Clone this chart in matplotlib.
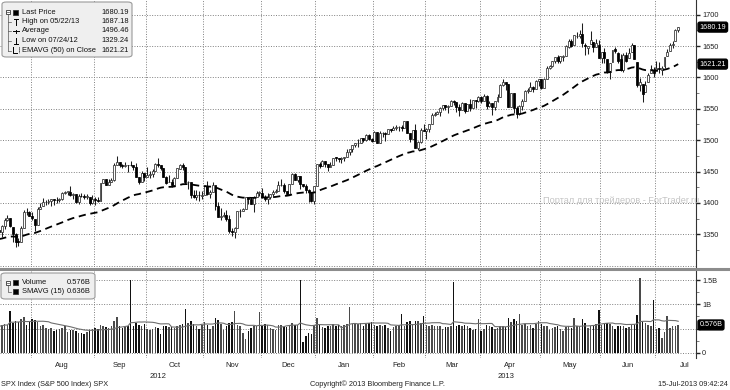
import numpy as np
import pandas as pd
import matplotlib
matplotlib.use("Agg")
import matplotlib.pyplot as plt
from matplotlib.patches import FancyBboxPatch, Rectangle
from matplotlib.lines import Line2D
import matplotlib.transforms as mtransforms

plt.rcParams['font.family'] = ['Liberation Sans', 'DejaVu Sans']

# market holidays inside the window (used to build the trading calendar)
holidays = ['2012-09-03', '2012-10-29', '2012-10-30', '2012-11-22', '2012-12-25',
            '2013-01-01', '2013-01-21', '2013-02-18', '2013-03-29', '2013-05-27',
            '2013-07-04']

# daily open, high, low, close of SPX, one list per month
jul12 = [(1356.50, 1357.26, 1348.51, 1353.64), (1353.68, 1365.36, 1345.07, 1363.67),
         (1363.58, 1375.26, 1358.96, 1372.78), (1373.01, 1380.39, 1371.21, 1376.51),
         (1376.51, 1376.51, 1362.19, 1362.66), (1362.34, 1362.34, 1337.56, 1350.52),
         (1350.52, 1351.53, 1329.24, 1338.31), (1338.35, 1343.98, 1331.50, 1337.89),
         (1338.17, 1363.13, 1338.17, 1360.02), (1360.05, 1389.19, 1360.05, 1385.97),
         (1385.94, 1391.74, 1381.37, 1385.30), (1385.27, 1387.16, 1379.17, 1379.32)]
aug12 = [(1379.32, 1385.03, 1373.35, 1375.32), (1375.13, 1375.13, 1354.65, 1365.00),
         (1365.45, 1394.16, 1365.45, 1390.99), (1391.04, 1399.63, 1391.04, 1394.23),
         (1394.46, 1407.14, 1394.46, 1401.35), (1401.23, 1404.14, 1396.13, 1402.22),
         (1402.26, 1405.95, 1398.80, 1402.80), (1402.58, 1405.98, 1395.62, 1405.87),
         (1405.87, 1405.87, 1397.32, 1404.11), (1404.36, 1410.03, 1400.60, 1403.93),
         (1403.89, 1407.73, 1401.83, 1405.53), (1405.57, 1417.44, 1404.15, 1415.51),
         (1415.84, 1418.71, 1414.67, 1418.16), (1417.85, 1418.13, 1412.12, 1418.13),
         (1418.13, 1426.68, 1410.86, 1413.17), (1413.09, 1416.12, 1406.78, 1413.49),
         (1413.49, 1413.49, 1400.50, 1402.08), (1401.99, 1413.46, 1398.04, 1411.13),
         (1411.13, 1416.17, 1409.11, 1410.44), (1410.44, 1413.63, 1405.59, 1409.30),
         (1409.32, 1413.95, 1406.57, 1410.49), (1410.08, 1410.08, 1397.01, 1399.48),
         (1400.07, 1413.09, 1398.96, 1406.58)]
sep12 = [(1406.54, 1409.31, 1396.56, 1404.94), (1404.94, 1408.81, 1401.25, 1403.44),
         (1403.74, 1432.12, 1403.74, 1432.12), (1432.12, 1437.92, 1431.45, 1437.92),
         (1437.92, 1438.74, 1428.98, 1429.08), (1429.13, 1437.76, 1429.13, 1433.56),
         (1433.56, 1439.15, 1432.99, 1436.56), (1436.56, 1463.76, 1435.34, 1459.99),
         (1460.07, 1474.51, 1460.07, 1465.77), (1465.42, 1465.63, 1457.55, 1461.19),
         (1461.19, 1461.47, 1456.13, 1459.32), (1459.50, 1465.15, 1457.88, 1461.05),
         (1461.05, 1461.23, 1449.98, 1460.26), (1460.34, 1467.07, 1459.51, 1460.15),
         (1459.76, 1460.72, 1452.06, 1456.89), (1456.94, 1463.24, 1441.59, 1441.59),
         (1441.60, 1441.60, 1430.53, 1433.32), (1433.36, 1450.20, 1433.36, 1447.15),
         (1447.13, 1447.13, 1435.60, 1440.67)]
oct12 = [(1440.90, 1457.14, 1440.90, 1444.49), (1444.99, 1451.52, 1439.01, 1445.75),
         (1446.05, 1454.30, 1441.99, 1450.99), (1451.08, 1463.14, 1451.08, 1461.40),
         (1461.40, 1470.96, 1456.89, 1460.93), (1460.93, 1460.93, 1453.10, 1455.88),
         (1455.90, 1455.90, 1441.18, 1441.48), (1441.48, 1442.52, 1430.64, 1432.56),
         (1432.82, 1443.90, 1432.82, 1432.84), (1432.84, 1438.43, 1425.53, 1428.59),
         (1428.75, 1441.31, 1427.24, 1440.13), (1440.31, 1455.51, 1440.31, 1454.92),
         (1454.22, 1462.20, 1453.35, 1460.91), (1460.94, 1464.02, 1452.63, 1457.34),
         (1457.34, 1457.34, 1429.85, 1433.19), (1433.21, 1435.46, 1422.06, 1433.82),
         (1433.74, 1433.74, 1407.56, 1413.11), (1413.20, 1420.04, 1407.10, 1408.75),
         (1409.74, 1421.12, 1405.14, 1412.97), (1412.97, 1418.82, 1403.28, 1411.94),
         (1410.99, 1418.76, 1405.95, 1412.16)]
nov12 = [(1412.20, 1428.35, 1412.20, 1427.59), (1427.59, 1434.27, 1412.91, 1414.20),
         (1414.02, 1419.90, 1408.13, 1417.26), (1417.26, 1433.38, 1417.26, 1428.39),
         (1428.27, 1428.27, 1388.14, 1394.53), (1394.53, 1401.23, 1377.51, 1377.51),
         (1377.55, 1391.39, 1373.03, 1379.85), (1379.86, 1384.87, 1377.19, 1380.03),
         (1380.03, 1388.81, 1370.78, 1374.53), (1374.64, 1380.13, 1352.50, 1355.49),
         (1355.41, 1360.62, 1348.05, 1353.33), (1353.36, 1362.03, 1343.35, 1359.88),
         (1359.88, 1386.89, 1359.88, 1386.89), (1386.82, 1389.77, 1377.04, 1387.81),
         (1387.79, 1391.25, 1386.39, 1391.03), (1391.03, 1409.16, 1391.03, 1409.15),
         (1409.15, 1409.15, 1397.68, 1406.29), (1406.29, 1409.01, 1398.03, 1398.94),
         (1398.77, 1410.31, 1385.43, 1409.93), (1409.96, 1419.70, 1409.04, 1415.95),
         (1415.95, 1418.86, 1411.63, 1416.18)]
dec12 = [(1416.34, 1423.73, 1408.46, 1409.46), (1409.46, 1413.14, 1403.65, 1407.05),
         (1407.05, 1415.56, 1398.23, 1409.28), (1409.43, 1413.95, 1405.93, 1413.94),
         (1413.95, 1420.34, 1410.90, 1418.07), (1418.07, 1421.64, 1415.64, 1418.55),
         (1418.55, 1434.27, 1418.55, 1427.84), (1427.84, 1438.59, 1426.76, 1428.48),
         (1428.48, 1431.36, 1416.00, 1419.45), (1419.45, 1419.45, 1411.88, 1413.58),
         (1413.54, 1430.67, 1413.54, 1430.36), (1430.47, 1448.00, 1430.47, 1446.79),
         (1446.79, 1447.75, 1435.80, 1435.81), (1435.81, 1443.70, 1432.82, 1443.69),
         (1443.67, 1443.67, 1422.58, 1430.15), (1430.15, 1430.15, 1424.66, 1426.66),
         (1426.66, 1429.42, 1416.43, 1419.83), (1419.83, 1422.80, 1401.80, 1418.10),
         (1418.10, 1418.10, 1401.58, 1402.43), (1402.43, 1426.74, 1398.11, 1426.19)]
jan13 = [(1426.19, 1462.43, 1426.19, 1462.42), (1462.42, 1465.47, 1455.53, 1459.37),
         (1459.37, 1467.94, 1458.99, 1466.47), (1466.47, 1466.47, 1456.62, 1461.89),
         (1461.89, 1461.89, 1451.64, 1457.15), (1457.15, 1464.73, 1457.15, 1461.02),
         (1461.02, 1472.30, 1461.02, 1472.12), (1472.12, 1472.75, 1467.58, 1472.05),
         (1472.05, 1472.05, 1465.69, 1470.68), (1470.67, 1473.31, 1463.76, 1472.34),
         (1472.33, 1473.96, 1467.60, 1472.63), (1472.63, 1485.16, 1472.63, 1480.94),
         (1480.95, 1485.98, 1475.81, 1485.98), (1485.98, 1492.56, 1481.16, 1492.56),
         (1492.56, 1496.13, 1489.90, 1494.81), (1494.81, 1502.27, 1489.46, 1494.82),
         (1494.82, 1503.26, 1494.82, 1502.96), (1502.96, 1503.23, 1496.33, 1500.18),
         (1500.18, 1509.35, 1498.09, 1507.84), (1507.84, 1509.94, 1500.11, 1501.96),
         (1501.96, 1504.19, 1496.76, 1498.11)]
feb13 = [(1498.11, 1514.41, 1498.11, 1513.17), (1513.17, 1513.17, 1495.02, 1495.71),
         (1495.71, 1514.96, 1495.71, 1511.29), (1511.29, 1512.53, 1504.71, 1512.12),
         (1512.12, 1512.90, 1498.49, 1509.39), (1509.39, 1518.31, 1509.39, 1517.93),
         (1517.93, 1518.31, 1513.61, 1517.01), (1517.01, 1522.29, 1515.61, 1519.43),
         (1519.43, 1524.69, 1515.93, 1520.33), (1520.33, 1523.14, 1514.02, 1521.38),
         (1521.38, 1524.24, 1514.14, 1519.79), (1519.79, 1530.94, 1519.79, 1530.94),
         (1530.94, 1530.94, 1511.41, 1511.95), (1511.95, 1511.95, 1497.29, 1502.42),
         (1502.42, 1515.64, 1502.42, 1515.60), (1515.60, 1525.84, 1487.85, 1487.85),
         (1487.85, 1498.99, 1485.01, 1496.94), (1496.94, 1520.08, 1494.88, 1515.99),
         (1515.99, 1525.34, 1514.46, 1514.68)]
mar13 = [(1514.68, 1519.99, 1501.48, 1518.20), (1518.20, 1525.27, 1512.29, 1525.20),
         (1525.20, 1543.47, 1525.20, 1539.79), (1539.79, 1545.25, 1538.11, 1541.46),
         (1541.46, 1545.78, 1541.46, 1544.26), (1544.26, 1552.48, 1539.29, 1551.18),
         (1551.15, 1556.27, 1547.36, 1556.22), (1556.22, 1556.77, 1548.24, 1552.48),
         (1552.48, 1556.39, 1544.00, 1554.52), (1554.52, 1563.32, 1554.52, 1563.23),
         (1563.21, 1563.62, 1555.74, 1560.70), (1560.70, 1560.70, 1545.13, 1552.10),
         (1552.10, 1557.25, 1538.57, 1548.34), (1548.34, 1561.56, 1548.34, 1558.71),
         (1558.71, 1558.71, 1543.55, 1545.80), (1545.90, 1557.74, 1545.90, 1556.89),
         (1556.89, 1564.91, 1546.22, 1551.69), (1551.69, 1563.95, 1551.69, 1563.77),
         (1563.75, 1564.07, 1551.90, 1562.85), (1562.86, 1570.28, 1561.08, 1569.19)]
apr13 = [(1569.18, 1570.57, 1558.47, 1562.17), (1562.17, 1573.66, 1562.17, 1570.25),
         (1570.25, 1571.47, 1549.80, 1553.69), (1553.69, 1562.60, 1552.52, 1559.98),
         (1559.98, 1559.98, 1539.50, 1553.28), (1553.26, 1563.07, 1548.63, 1563.07),
         (1563.11, 1573.89, 1560.92, 1568.61), (1568.61, 1589.07, 1568.61, 1587.73),
         (1587.73, 1597.35, 1586.17, 1593.37), (1593.30, 1593.30, 1579.97, 1588.85),
         (1588.84, 1588.84, 1552.28, 1552.36), (1552.36, 1575.35, 1552.36, 1574.57),
         (1574.57, 1574.57, 1543.69, 1552.01), (1552.03, 1554.38, 1536.03, 1541.61),
         (1541.61, 1555.89, 1539.40, 1555.25), (1555.25, 1565.55, 1548.19, 1562.50),
         (1562.50, 1579.58, 1562.50, 1578.78), (1578.78, 1583.00, 1575.80, 1578.79),
         (1578.93, 1592.64, 1578.93, 1585.16), (1585.16, 1585.78, 1577.56, 1582.24),
         (1582.34, 1596.65, 1582.34, 1593.61), (1593.58, 1597.57, 1586.50, 1597.57)]
may13 = [(1597.55, 1597.55, 1581.28, 1582.70), (1582.77, 1598.60, 1582.77, 1597.59),
         (1597.60, 1618.46, 1597.60, 1614.42), (1614.40, 1619.77, 1614.21, 1617.50),
         (1617.55, 1626.03, 1616.64, 1625.96), (1625.95, 1632.78, 1622.70, 1632.69),
         (1632.69, 1635.01, 1623.09, 1626.67), (1626.69, 1633.70, 1623.71, 1633.70),
         (1632.10, 1636.00, 1626.74, 1633.77), (1633.75, 1651.10, 1633.75, 1650.34),
         (1649.13, 1661.49, 1646.68, 1658.78), (1658.07, 1660.51, 1648.60, 1650.47),
         (1652.45, 1667.47, 1652.45, 1667.47), (1665.71, 1672.84, 1663.52, 1666.29),
         (1666.20, 1674.93, 1662.67, 1669.16), (1669.39, 1687.18, 1648.86, 1655.35),
         (1651.62, 1655.50, 1635.53, 1650.51), (1646.67, 1649.78, 1636.88, 1649.60),
         (1652.63, 1674.21, 1652.63, 1660.06), (1656.57, 1656.57, 1640.05, 1648.36),
         (1649.14, 1661.91, 1648.61, 1654.41), (1652.13, 1658.99, 1630.74, 1630.74)]
jun13 = [(1631.71, 1640.42, 1622.72, 1640.42), (1640.73, 1646.53, 1623.62, 1631.38),
         (1629.05, 1629.31, 1607.09, 1608.90), (1609.29, 1622.56, 1598.23, 1622.56),
         (1625.27, 1644.40, 1625.27, 1643.38), (1644.67, 1648.69, 1639.26, 1642.81),
         (1638.64, 1640.13, 1622.92, 1626.13), (1629.94, 1637.71, 1610.92, 1612.52),
         (1612.15, 1639.25, 1608.07, 1636.36), (1635.52, 1640.80, 1623.96, 1626.73),
         (1630.64, 1646.50, 1630.34, 1639.04), (1639.77, 1654.19, 1639.77, 1651.81),
         (1651.83, 1652.45, 1628.91, 1628.93), (1624.62, 1624.62, 1584.32, 1588.19),
         (1588.62, 1599.19, 1577.70, 1592.43), (1588.77, 1588.77, 1560.33, 1573.09),
         (1577.52, 1593.79, 1577.09, 1588.03), (1592.27, 1606.83, 1592.27, 1603.26),
         (1606.44, 1620.07, 1606.44, 1613.20), (1611.12, 1615.94, 1601.06, 1606.28)]
jul13 = [(1609.78, 1626.61, 1609.78, 1614.96), (1614.29, 1624.26, 1606.77, 1614.08),
         (1611.48, 1618.97, 1604.57, 1615.41), (1618.65, 1632.07, 1614.71, 1631.89),
         (1634.20, 1644.68, 1634.20, 1640.46), (1642.89, 1654.18, 1642.89, 1652.32),
         (1651.56, 1657.92, 1647.66, 1652.62), (1657.41, 1676.63, 1657.41, 1675.02),
         (1675.26, 1680.19, 1672.33, 1680.19)]

# volume in billions, one list per month
vol_jul12 = [0.55, 0.57, 0.60, 0.58, 0.87, 0.62, 0.66, 0.64, 0.70, 0.73, 0.58, 0.66]
vol_aug12 = [0.70, 0.68, 0.64, 0.55, 0.58, 0.52, 0.50, 0.51, 0.45, 0.47, 0.50, 0.52,
             0.55, 0.44, 0.48, 0.47, 0.46, 0.41, 0.42, 0.40, 0.43, 0.48, 0.50]
vol_sep12 = [0.52, 0.50, 0.58, 0.56, 0.53, 0.52, 0.55, 0.66, 0.74, 0.55, 0.52, 0.54,
             0.56, 1.50, 0.55, 0.62, 0.58, 0.56, 0.60]
vol_oct12 = [0.50, 0.48, 0.50, 0.53, 0.52, 0.40, 0.55, 0.56, 0.53, 0.54, 0.52, 0.56,
             0.58, 0.59, 0.90, 0.62, 0.66, 0.60, 0.55, 0.50, 0.58]
vol_nov12 = [0.63, 0.58, 0.50, 0.56, 0.72, 0.68, 0.60, 0.48, 0.56, 0.62, 0.64, 0.87,
             0.57, 0.55, 0.42, 0.28, 0.46, 0.52, 0.56, 0.55, 0.85]
vol_dec12 = [0.55, 0.60, 0.57, 0.52, 0.50, 0.48, 0.57, 0.58, 0.54, 0.53, 0.56, 0.62,
             0.57, 0.58, 1.50, 0.23, 0.35, 0.42, 0.40, 0.58]
vol_jan13 = [0.72, 0.58, 0.54, 0.52, 0.55, 0.56, 0.60, 0.56, 0.57, 0.55, 0.58, 0.60,
             0.95, 0.60, 0.62, 0.60, 0.62, 0.56, 0.60, 0.62, 0.63]
vol_feb13 = [0.58, 0.56, 0.57, 0.55, 0.57, 0.52, 0.46, 0.54, 0.55, 0.57, 0.80, 0.56,
             0.64, 0.66, 0.60, 0.66, 0.65, 0.62, 0.77]
vol_mar13 = [0.58, 0.55, 0.57, 0.56, 0.55, 0.56, 0.50, 0.54, 0.53, 0.55, 1.45, 0.56,
             0.57, 0.55, 0.58, 0.56, 0.52, 0.48, 0.50, 0.70]
vol_apr13 = [0.45, 0.50, 0.58, 0.56, 0.54, 0.50, 0.52, 0.55, 0.56, 0.54, 0.72, 0.64,
             0.70, 0.66, 0.80, 0.58, 0.60, 0.56, 0.58, 0.52, 0.60, 0.66]
vol_may13 = [0.60, 0.56, 0.55, 0.48, 0.52, 0.54, 0.55, 0.50, 0.46, 0.54, 0.56, 0.52,
             0.72, 0.56, 0.55, 0.70, 0.62, 0.52, 0.56, 0.58, 0.60, 0.88]
vol_jun13 = [0.58, 0.60, 0.62, 0.60, 0.55, 0.50, 0.55, 0.56, 0.55, 0.52, 0.54, 0.58,
             0.60, 0.78, 1.54, 0.66, 0.62, 0.58, 0.56, 1.09]
vol_jul13 = [0.50, 0.52, 0.30, 0.44, 0.76, 0.52, 0.55, 0.56, 0.576]

ema_start = 1342.0   # EMA(50) level just before the first bar

price_ticks = [1350, 1400, 1450, 1500, 1550, 1600, 1650, 1700]
vol_ticks = [0, 0.5, 1.0, 1.5]
vol_tick_labels = ['0', '', '1B', '1.5B']   # 0.5B sits under the last-volume tag

price_legend = [('Last Price', '1680.19'), ('High on 05/22/13', '1687.18'),
                ('Average', '1496.46'), ('Low on 07/24/12', '1329.24'),
                ('EMAVG (50) on Close', '1621.21')]
vol_legend = [('Volume', '0.576B'), ('SMAVG (15)', '0.636B')]


ohlc = np.array(jul12 + aug12 + sep12 + oct12 + nov12 + dec12 + jan13 + feb13 +
                mar13 + apr13 + may13 + jun13 + jul13)
vol = np.array(vol_jul12 + vol_aug12 + vol_sep12 + vol_oct12 + vol_nov12 + vol_dec12 +
               vol_jan13 + vol_feb13 + vol_mar13 + vol_apr13 + vol_may13 + vol_jun13 +
               vol_jul13)
n = len(ohlc)
o, h, l, c = ohlc.T
x = np.arange(n)

# trading calendar (runs to end of July 2013 so the last month label can be centred)
days = pd.bdate_range('2012-07-16', '2013-07-31')
days = days[~days.isin(pd.to_datetime(holidays))]

# EMA(50) on close
alpha = 2.0 / 51
ema = []
prev = ema_start
for val in c:
    prev = alpha * val + (1 - alpha) * prev
    ema.append(prev)
sma = pd.Series(vol).rolling(15, min_periods=1).mean()

W, H = 730, 390
fig = plt.figure(figsize=(7.3, 3.9), dpi=100)
fig.patch.set_facecolor('white')

def fx(px):
    return px / W

def fy(py):
    return 1 - py / H

ax = fig.add_axes([0, fy(267), fx(696), 267 / H])
axv = fig.add_axes([0, fy(358), fx(696), 87 / H])

xmin, xmax = 0.29, 254.5
grid_kw = dict(color='#808080', lw=0.7, linestyle=(0, (1, 1.6)), zorder=0)

# month boundaries and label centres
months = pd.Series(np.arange(len(days)), index=days)
groups = months.groupby([days.year, days.month])
bounds, centres, names = [], [], []
for k, (key, g) in enumerate(groups):
    first, last = g.iloc[0], g.iloc[-1]
    if first > 0:
        bounds.append(first - 0.5)
    if k > 0:
        centres.append((first + last) / 2)
        names.append(g.index[0].strftime('%b'))

for a in (ax, axv):
    for b in bounds:
        a.axvline(b, **grid_kw)
    a.set_xlim(xmin, xmax)
    for side in ('top', 'left', 'bottom'):
        a.spines[side].set_visible(False)
    a.spines['right'].set_color('#333333')
    a.spines['right'].set_linewidth(0.8)
    a.yaxis.tick_right()
    a.tick_params(axis='y', which='major', length=3, width=1, colors='#222222',
                  labelsize=5.3, pad=1.5)
    a.tick_params(axis='y', which='minor', length=2, width=0.6, colors='#666666')
    a.tick_params(axis='x', length=0)

# ---- price panel
ax.set_ylim(1297.9, 1723.4)
for t in [1300] + price_ticks:
    ax.axhline(t, **grid_kw)
ax.set_yticks(price_ticks)
ax.set_yticks(np.arange(1325, 1725, 50), minor=True)
ax.set_xticks([])

up = c >= o
ax.vlines(x, l, h, color='#1e1e1e', lw=0.75, zorder=2)
body = np.maximum(np.abs(c - o), 0.8)
ax.bar(x[up], body[up], bottom=o[up], width=0.72, facecolor='white',
       edgecolor='#2e2e2e', lw=0.55, zorder=3)
ax.bar(x[~up], body[~up], bottom=c[~up], width=0.72, facecolor='black',
       edgecolor='black', lw=0.55, zorder=3)
ax.plot(x, ema, color='black', lw=1.3, dashes=(4, 2.6), zorder=4)

tag_kw = dict(color='white', fontsize=5.2, va='center', ha='left', clip_on=False,
              bbox=dict(boxstyle='round,pad=0.2,rounding_size=0.25', fc='black', ec='black'))
blend = mtransforms.blended_transform_factory(ax.transAxes, ax.transData)
for val, txt in [(1680.19, '1680.19'), (1621.21, '1621.21')]:
    ax.text(1.005, val, txt, transform=blend, **tag_kw)

# ---- volume panel
axv.set_ylim(-0.103, 1.685)
for t in vol_ticks:
    axv.axhline(t, **grid_kw)
axv.set_yticks(vol_ticks)
axv.set_yticklabels(vol_tick_labels)
axv.set_yticks([0.25, 0.75, 1.25], minor=True)
axv.bar(x[up], vol[up], width=0.55, color='#4a4a4a', zorder=2)
axv.bar(x[~up], vol[~up], width=0.55, color='#111111', zorder=2)
axv.plot(x, sma, color='#6e6e6e', lw=0.8, zorder=3)
axv.set_xticks(centres)
axv.set_xticklabels(names, fontsize=5.5, color='#222222')
axv.tick_params(axis='x', pad=3)
blendv = mtransforms.blended_transform_factory(axv.transAxes, axv.transData)
axv.text(1.005, 0.576, '0.576B', transform=blendv, **tag_kw)

# year labels under the months
jan_bound = [b for b in bounds if days[int(b + 0.5)].month == 1][0]
for yr, (a0, a1) in [('2012', (xmin, jan_bound)), ('2013', (jan_bound, xmax))]:
    xc = fx(696) * ((a0 + a1) / 2 - xmin) / (xmax - xmin)
    fig.text(xc, fy(376), yr, fontsize=5.5, ha='center', va='center', color='#222222')

# panel separator
fig.add_artist(Line2D([0, 1], [fy(268.5), fy(268.5)], color='#8c8c8c', lw=2.2))


# ---- legend boxes
def legend_box(x0, y0, x1, y1):
    fig.add_artist(FancyBboxPatch((fx(x0), fy(y1)), fx(x1 - x0), (y1 - y0) / H,
                                  boxstyle='round,pad=0,rounding_size=0.006',
                                  fc='#efefef', ec='#9a9a9a', lw=0.8))

def fline(xs, ys, **kw):
    fig.add_artist(Line2D([fx(v) for v in xs], [fy(v) for v in ys], **kw))

def fsquare(x0, y0, size, filled=True):
    fig.add_artist(Rectangle((fx(x0), fy(y0 + size)), size / W, size / H,
                             fc='black' if filled else 'white', ec='#333333', lw=0.6))

legend_box(2, 2, 132, 57)
rows = [12, 21.5, 31, 41, 50.5]
for (lab, val), ry in zip(price_legend, rows):
    fig.text(fx(22), fy(ry), lab, fontsize=5.4, va='center', ha='left', color='#111111')
    fig.text(fx(129), fy(ry), val, fontsize=5.4, va='center', ha='right', color='#111111')
fsquare(6, 9.5, 4, filled=False)
fline([7, 9], [11.5, 11.5], color='#333333', lw=0.5)
fline([8, 8], [13.5, 50.5], color='#555555', lw=0.5)
for ry in rows[1:]:
    fline([8, 11], [ry, ry], color='#555555', lw=0.5)
fsquare(13, 9.5, 5)
fline([14, 18], [18.8, 18.8], color='black', lw=0.7)
fline([16, 16], [18.8, 24.5], color='black', lw=0.7)
fline([13, 19], [31, 31], color='black', lw=0.7)
fline([16, 16], [29.5, 32.5], color='black', lw=0.7)
fline([16, 16], [37.5, 44], color='black', lw=0.7)
fline([14, 18], [44, 44], color='black', lw=0.7)
fline([13, 13, 17], [47, 53, 53], color='black', lw=0.7)
fline([19, 19], [47, 53], color='black', lw=0.7, linestyle=(0, (1, 1)))

legend_box(1, 273, 95, 299)
vrows = [282.7, 291.7]
for (lab, val), ry in zip(vol_legend, vrows):
    fig.text(fx(22), fy(ry), lab, fontsize=5.4, va='center', ha='left', color='#111111')
    fig.text(fx(91), fy(ry), val, fontsize=5.4, va='center', ha='right', color='#111111')
fsquare(6, 280.5, 4, filled=False)
fline([7, 9], [282.5, 282.5], color='#333333', lw=0.5)
fline([8, 8, 11], [284.5, 291.7, 291.7], color='#555555', lw=0.5)
fsquare(13, 280.2, 5)
fsquare(13, 289.2, 5)

# watermark and footer
fig.text(fx(543), fy(201), 'Портал для трейдеров - ForTrader.ru', fontsize=6.6,
         color='#c4c4c4', va='center', ha='left')
fig.text(fx(1), fy(384.5), 'SPX Index (S&P 500 Index) SPX', fontsize=5.3,
         va='center', ha='left', color='#222222')
fig.text(fx(310), fy(384.5), 'Copyright© 2013 Bloomberg Finance L.P.', fontsize=5.3,
         va='center', ha='left', color='#222222')
fig.text(fx(728), fy(384.5), '15-Jul-2013 09:42:24', fontsize=5.3,
         va='center', ha='right', color='#222222')

fig.savefig('out.png', dpi=100)
